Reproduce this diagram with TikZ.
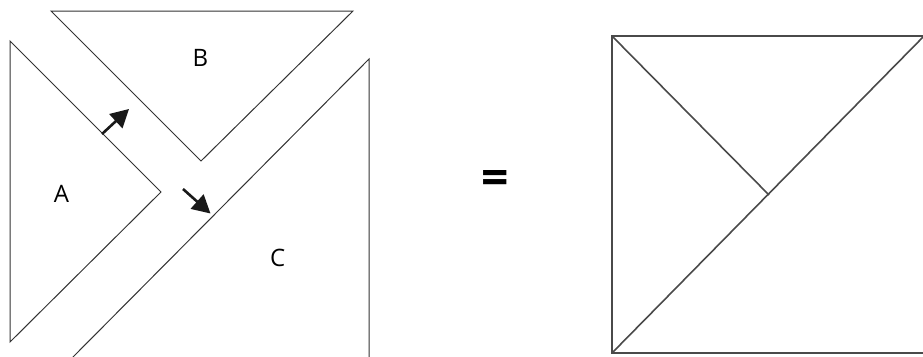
\documentclass[tikz,border=0pt]{standalone}
\usepackage{fontspec}
\setmainfont{Open Sans}
\usetikzlibrary{arrows.meta}
\definecolor{edge}{HTML}{333333}
\definecolor{sqedge}{HTML}{4A4A4A}
\tikzset{
  piece/.style={draw=edge, line width=1pt, line join=miter},
  sqline/.style={draw=sqedge, line width=1.6pt},
  label/.style={font=\fontsize{24}{28}\selectfont, text=black, inner sep=0pt},
  move/.style={draw=black!90, line width=2.6pt, -{Triangle[length=18pt,width=19pt]}},
}
\begin{document}
\begin{tikzpicture}[x=1pt,y=-1pt]
\useasboundingbox (0,0) rectangle (923,356);
% pieces
\draw[piece] (10,41) -- (161,192) -- (10,342) -- cycle;
\draw[piece] (51,11) -- (353,11) -- (201,161) -- cycle;
\draw[piece] (72,358) -- (369,59) -- (369,358);
% square
\draw[sqline] (926,36) -- (612,36) -- (612,353) -- (926,353);
\draw[sqline] (612,353) -- (926,34);
\draw[sqline] (612,36) -- (769,195);
% labels
\node[label] (A) at (61.5,194) {A};
\node[label] (B) at (200.5,57.5) {B};
\node[label] (C) at (277.7,258) {C};
% arrows
\coordinate (a1s) at (102,134);
\coordinate (a1e) at (129,109);
\coordinate (a2s) at (183,189);
\coordinate (a2e) at (210.5,213.5);
\draw[move] (a1s) -- (a1e);
\draw[move] (a2s) -- (a2e);
% equals
\node[font=\fontsize{48}{52}\selectfont\bfseries, inner sep=0pt] (eq) at (495,182) {=};
\end{tikzpicture}
\end{document}
